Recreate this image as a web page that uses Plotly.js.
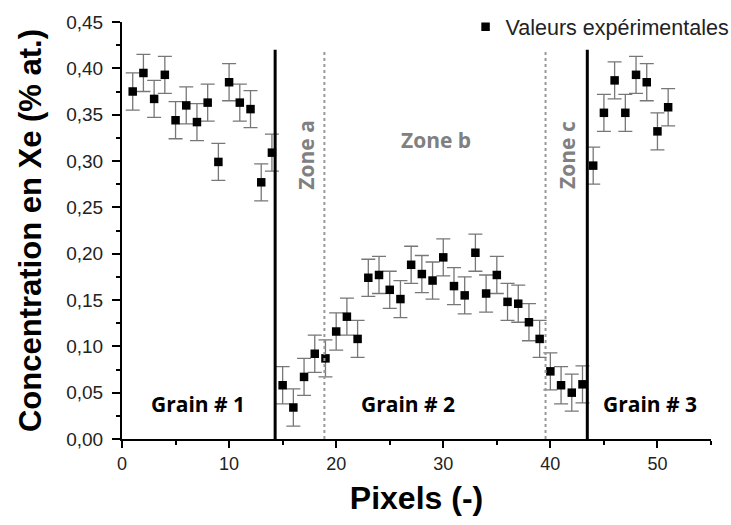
<!DOCTYPE html>
<html><head><meta charset="utf-8">
<script src="https://cdn.plot.ly/plotly-3.0.1.min.js"></script>
<style>html,body{margin:0;padding:0;background:#fff}#chart{width:731px;height:525px}</style>
</head><body><div id="chart"></div>
<script>
const pixels = [1,2,3,4,5,6,7,8,9,10,11,12,13,14,15,16,17,18,19,20,21,22,23,24,25,26,27,28,29,30,31,32,33,34,35,36,37,38,39,40,41,42,43,44,45,46,47,48,49,50,51];
const concentration = [0.375,0.395,0.367,0.393,0.344,0.360,0.342,0.363,0.299,0.385,0.363,0.356,0.277,0.309,
  0.058,0.034,0.067,0.092,0.087,0.116,0.132,0.108,0.174,0.177,0.161,0.151,0.188,0.178,0.171,0.196,0.165,
  0.155,0.201,0.157,0.177,0.148,0.146,0.126,0.108,0.073,0.058,0.050,0.059,
  0.295,0.352,0.387,0.352,0.393,0.385,0.332,0.358];
const errorHalf = 0.02;
const grainBoundaries = [14.3, 43.45];
const zoneBoundaries = [18.9, 39.55];
const boundaryTop = 0.42;
const grainLabels = ['Grain # 1','Grain # 2','Grain # 3'];
const grainLabelX = [7.1, 26.7, 49.3];
const zoneLabels = ['Zone a','Zone b','Zone c'];
const zoneLabelX = [17.1, 29.3, 41.5];
const zoneLabelY = [0.307, 0.323, 0.307];
const seriesName = 'Valeurs expérimentales';

const trace = {
  x: pixels, y: concentration, type: 'scatter', mode: 'markers', name: seriesName,
  marker: {symbol: 'square', size: 8.5, color: '#000'},
  error_y: {type: 'constant', value: errorHalf, color: '#777', thickness: 1.3, width: 7},
  showlegend: true
};

const shapes = [];
grainBoundaries.forEach(b => shapes.push({type:'line', xref:'x', yref:'y', x0:b, x1:b, y0:0, y1:boundaryTop, line:{color:'#000', width:3}}));
zoneBoundaries.forEach(b => shapes.push({type:'line', xref:'x', yref:'y', x0:b, x1:b, y0:0, y1:boundaryTop, line:{color:'#999', width:2, dash:'dot'}}));

const annotations = [];
grainLabels.forEach((t,i) => annotations.push({x: grainLabelX[i], y: 0.038, xref:'x', yref:'y', text: t, showarrow:false,
  font:{family:'Open Sans, sans-serif', size:21, color:'#000', weight:'bold'}}));
zoneLabels.forEach((t,i) => annotations.push({x: zoneLabelX[i], y: zoneLabelY[i], xref:'x', yref:'y', text: t, showarrow:false,
  textangle: i === 1 ? 0 : -90,
  font:{family:'Open Sans, sans-serif', size:21, color:'#808080', weight:'bold'}}));

const layout = {
  width: 731, height: 525,
  margin: {l:122, r:20, t:22, b:86, autoexpand: false},
  paper_bgcolor: '#fff', plot_bgcolor: '#fff',
  separators: ', ',
  font: {family: 'Liberation Sans, Arial, sans-serif', color: '#000'},
  xaxis: {
    range: [0, 55], dtick: 10, tick0: 0, showgrid: false, zeroline: false, automargin: false,
    showline: true, linecolor: '#000', linewidth: 2, ticks: 'outside', ticklen: 7, tickwidth: 2, tickcolor: '#000',
    minor: {dtick: 5, ticks: 'outside', ticklen: 4, tickwidth: 2, tickcolor: '#000'},
    tickfont: {size: 18, color: '#222'},
    title: {text: 'Pixels (-)', font: {size: 32, weight: 'bold', color: '#000'}, standoff: 14}
  },
  yaxis: {
    range: [0, 0.45], dtick: 0.05, tick0: 0, tickformat: '.2f', showgrid: false, zeroline: false, automargin: false,
    showline: true, linecolor: '#000', linewidth: 2, ticks: 'outside', ticklen: 8, tickwidth: 2, tickcolor: '#000',
    minor: {dtick: 0.025, ticks: 'outside', ticklen: 4, tickwidth: 2, tickcolor: '#000'},
    tickfont: {size: 19, color: '#222'}, ticklabelstandoff: 5,
    title: {text: 'Concentration en Xe (% at.)', font: {size: 31, weight: 'bold', color: '#000'}, standoff: 15}
  },
  showlegend: true,
  legend: {x: 1.04, xanchor: 'right', y: 1.038, yanchor: 'top', bgcolor: 'rgba(0,0,0,0)',
    font: {size: 21.5, color: '#222'}, itemwidth: 30},
  shapes: shapes,
  annotations: annotations
};

Plotly.newPlot('chart', [trace], layout, {displayModeBar: false, staticPlot: true});
</script></body></html>
